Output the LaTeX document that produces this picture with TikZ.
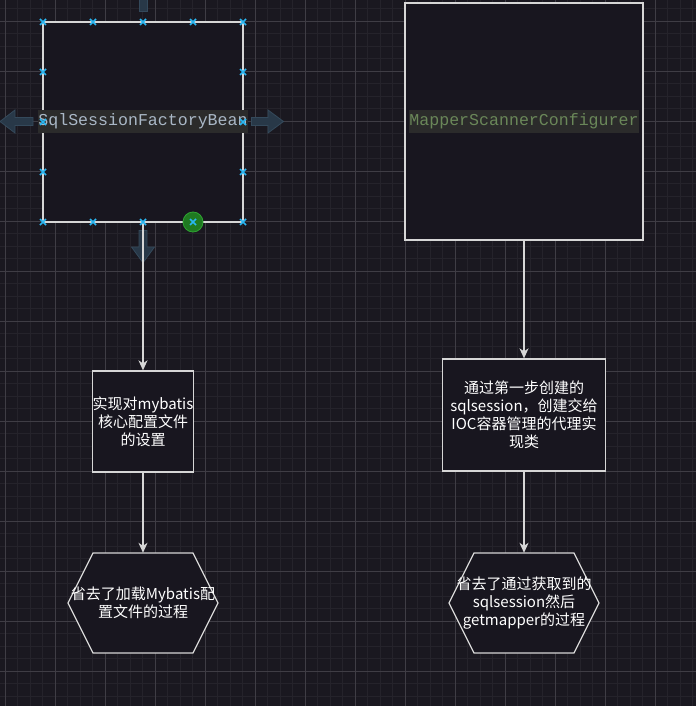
\documentclass[tikz,border=0pt]{standalone}
\usepackage{fontspec}
\newfontfamily\cjk{Noto Sans CJK SC}
\newfontfamily\monof{Liberation Mono}
\usetikzlibrary{arrows.meta}
\definecolor{bgc}{HTML}{1A1820}
\definecolor{minorc}{HTML}{25232B}
\definecolor{majorc}{HTML}{3F3D45}
\definecolor{boxc}{HTML}{18161F}
\definecolor{linec}{HTML}{D6D6D6}
\definecolor{labbg}{HTML}{2B2B2B}
\definecolor{labblue}{HTML}{A9B7C6}
\definecolor{labgreen}{HTML}{6A8759}
\definecolor{hoverfill}{HTML}{283848}
\definecolor{hoverdraw}{HTML}{34495B}
\definecolor{handlec}{HTML}{29B6F2}
\definecolor{greenfill}{HTML}{1F7A21}
\definecolor{greendraw}{HTML}{2FA332}
\tikzset{
  boxn/.style={draw=linec, fill=boxc, line width=1.3pt, inner sep=0pt, rectangle},
  txt/.style={text=white, font=\cjk\fontsize{15}{18}\selectfont, align=center},
  hexs/.style={draw=linec, fill=boxc, line width=1.3pt},
  labn/.style={fill=labbg, font=\monof\fontsize{16.6}{20}\selectfont, inner xsep=0pt, inner ysep=0pt, minimum height=23pt},
  arr/.style={draw=linec, line width=1.3pt, -{Stealth[length=10pt,width=9pt,inset=3pt]}},
  hover/.style={fill=hoverfill, draw=hoverdraw, line width=0.8pt},
  handle/.style={draw=handlec, line width=1.6pt},
}
\newcommand\hexat[2]{%
  \filldraw[hexs] ({#1-75},#2) -- ({#1-50},{#2-50}) -- ({#1+50},{#2-50}) -- ({#1+75},#2) -- ({#1+50},{#2+50}) -- ({#1-50},{#2+50}) -- cycle;}
\begin{document}
\begin{tikzpicture}[x=1pt,y=-1pt]
\useasboundingbox (0,0) rectangle (696,706);
\clip (0,0) rectangle (696,706);
\fill[bgc] (0,0) rectangle (696,706);
% grid
\foreach \i in {0,...,56} {
  \draw[minorc, line width=1pt] ({5.3+12.5*\i},0) -- ++(0,706);
  \draw[minorc, line width=1pt] (0,{8.8+12.5*\i}) -- ++(696,0);
}
\foreach \i in {0,...,14} {
  \draw[majorc, line width=1pt] ({5.3+50*\i},0) -- ++(0,706);
  \draw[majorc, line width=1pt] (0,{21.3+50*\i}) -- ++(696,0);
}
% boxes
\node[boxn, minimum width=200pt, minimum height=200pt] (b1) at (143,122) {};
\node[boxn, minimum width=238pt, minimum height=237pt] (b2) at (524,121.5) {};
\node[boxn, minimum width=100pt, minimum height=101pt, txt] (b3) at (143,421.5) {实现对mybatis\\核心配置文件\\的设置};
\node[boxn, minimum width=163pt, minimum height=112pt, txt] (b4) at (524,415) {通过第一步创建的\\sqlsession，创建交给\\IOC容器管理的代理实\\现类};
\hexat{143}{603}
\hexat{524}{603}
\node[minimum width=150pt, minimum height=100pt, inner sep=0pt, txt] (h1) at (143,603) {省去了加载Mybatis配\\置文件的过程};
\node[minimum width=150pt, minimum height=100pt, inner sep=0pt, txt] (h2) at (524,603) {省去了通过获取到的\\sqlsession然后\\getmapper的过程};
% hover arrows
\filldraw[hover] (0,121.5) -- (15,110) -- (15,117.5) -- (33,117.5) -- (33,125.5) -- (15,125.5) -- (15,133) -- cycle;
\filldraw[hover] (283.5,121.5) -- (268,110) -- (268,117.5) -- (251.5,117.5) -- (251.5,125.5) -- (268,125.5) -- (268,133) -- cycle;
\filldraw[hover] (143,262.7) -- (131.5,247) -- (139,247) -- (139,230.5) -- (147,230.5) -- (147,247) -- (154.5,247) -- cycle;
\filldraw[hover] (139,-2) rectangle (147,11.7);
% connectors
\draw[arr] (b1.south) -- (b3.north);
\draw[arr] (b3.south) -- (h1.north);
\draw[arr] (b2.south) -- (b4.north);
\draw[arr] (b4.south) -- (h2.north);
% labels
\node[labn, text=labblue] (l1) at (143,121.7) {SqlSessionFactoryBean};
\node[labn, text=labgreen] (l2) at (524,121.7) {MapperScannerConfigurer};
% selection
\filldraw[fill=greenfill, draw=greendraw, line width=0.8pt] (193,222) circle (10);
\foreach \x/\y in {43/22,93/22,143/22,193/22,243/22,43/222,93/222,143/222,193/222,243/222,43/72,43/122,43/172,243/72,243/122,243/172} {
  \draw[handle] ({\x-3},{\y-3}) -- ({\x+3},{\y+3});
  \draw[handle] ({\x-3},{\y+3}) -- ({\x+3},{\y-3});
}
\end{tikzpicture}
\end{document}
